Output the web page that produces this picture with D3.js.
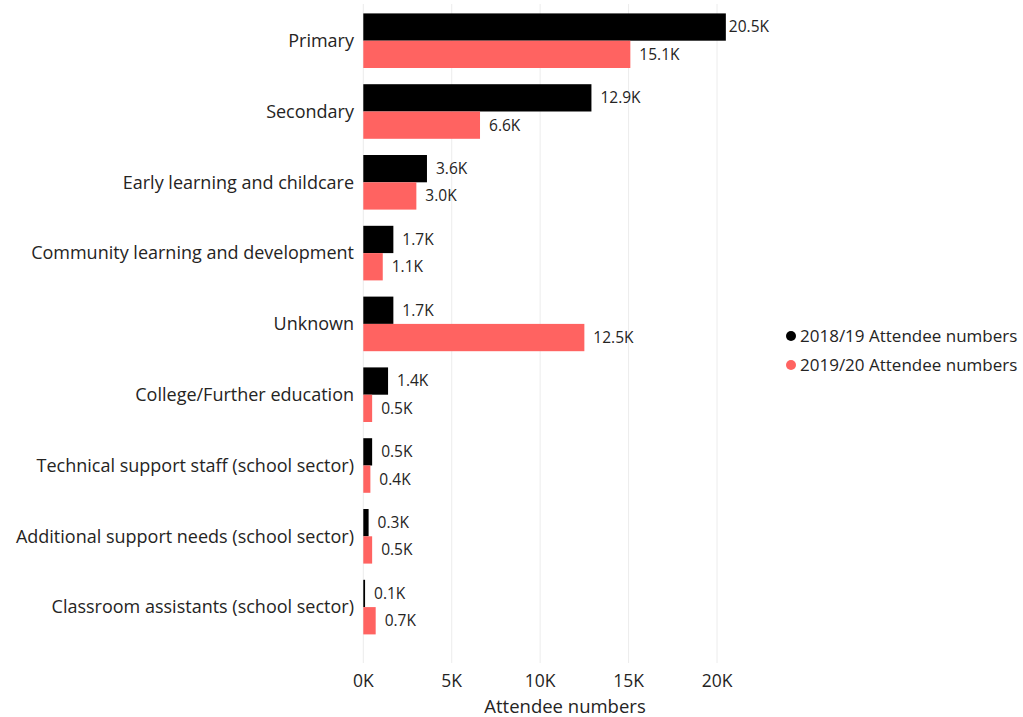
<!DOCTYPE html>
<html>
<head>
<meta charset="utf-8">
<script src="https://cdn.jsdelivr.net/npm/d3@7"></script>
<style>
  html, body { margin: 0; padding: 0; background: #fff; }
  svg { display: block; font-family: "Open Sans", "Segoe UI", sans-serif; }
</style>
</head>
<body>
<svg id="chart" width="1023" height="717"></svg>
<script>
// Attendee numbers by sector, in thousands
const categories = [
  "Primary",
  "Secondary",
  "Early learning and childcare",
  "Community learning and development",
  "Unknown",
  "College/Further education",
  "Technical support staff (school sector)",
  "Additional support needs (school sector)",
  "Classroom assistants (school sector)"
];
const seriesNames = ["2018/19 Attendee numbers", "2019/20 Attendee numbers"];
const values2018 = [20.5, 12.9, 3.6, 1.7, 1.7, 1.4, 0.5, 0.3, 0.1];
const values2019 = [15.1, 6.6, 3.0, 1.1, 12.5, 0.5, 0.4, 0.5, 0.7];
const xTicks = [0, 5, 10, 15, 20];
const colors = ["#000000", "#FF6361"];

const svg = d3.select("#chart");
const left = 363.3, right = 769;
const x = d3.scaleLinear().domain([0, 20]).range([left, 717]);
const y = d3.scaleBand().domain(categories).range([5.3, 642.5])
  .paddingInner(0.229).paddingOuter(0.1145);
const sub = d3.scaleBand().domain([0, 1]).range([0, y.bandwidth()]);

const textColor = "#252423";

// Vertical gridlines
svg.append("g").selectAll("line").data(xTicks).join("line")
  .attr("x1", d => x(d)).attr("x2", d => x(d))
  .attr("y1", 4).attr("y2", 663)
  .attr("stroke", "#ececec").attr("stroke-width", 1);

// Bars
const rows = categories.map((c, i) => ({ c, v: [values2018[i], values2019[i]] }));
const groups = svg.append("g").selectAll("g").data(rows).join("g")
  .attr("transform", d => `translate(0,${y(d.c)})`);

groups.selectAll("rect").data(d => d.v.map((v, k) => ({ v, k }))).join("rect")
  .attr("x", left)
  .attr("y", d => sub(d.k))
  .attr("width", d => Math.max(1, x(d.v) - left))
  .attr("height", sub.bandwidth())
  .attr("fill", d => colors[d.k]);

// Data labels at the end of each bar, kept inside the right edge
groups.selectAll("text").data(d => d.v.map((v, k) => ({ v, k }))).join("text")
  .attr("y", d => sub(d.k) + sub.bandwidth() / 2)
  .attr("dy", "0.35em")
  .attr("font-size", 15.5)
  .attr("fill", textColor)
  .text(d => d.v.toFixed(1) + "K")
  .attr("x", function (d) {
    const w = this.getComputedTextLength();
    return Math.min(x(d.v) + 9, right - w);
  });

// Category labels
svg.append("g").selectAll("text").data(categories).join("text")
  .attr("x", 354)
  .attr("y", d => y(d) + y.bandwidth() / 2)
  .attr("dy", "0.35em")
  .attr("text-anchor", "end")
  .attr("font-size", 18)
  .attr("fill", textColor)
  .text(d => d);

// X axis tick labels
svg.append("g").selectAll("text").data(xTicks).join("text")
  .attr("x", d => x(d))
  .attr("y", 687)
  .attr("text-anchor", "middle")
  .attr("font-size", 17.5)
  .attr("fill", textColor)
  .text(d => d + "K");

// Axis title
svg.append("text")
  .attr("x", 565).attr("y", 713)
  .attr("text-anchor", "middle")
  .attr("font-size", 18.5)
  .attr("fill", textColor)
  .text("Attendee numbers");

// Legend
const legend = svg.append("g").selectAll("g").data(seriesNames).join("g")
  .attr("transform", (d, i) => `translate(791,${336 + i * 29})`);
legend.append("circle").attr("r", 5).attr("fill", (d, i) => colors[i]);
legend.append("text").attr("x", 9).attr("dy", "0.35em")
  .attr("font-size", 17).attr("fill", textColor).text(d => d);
</script>
</body>
</html>
